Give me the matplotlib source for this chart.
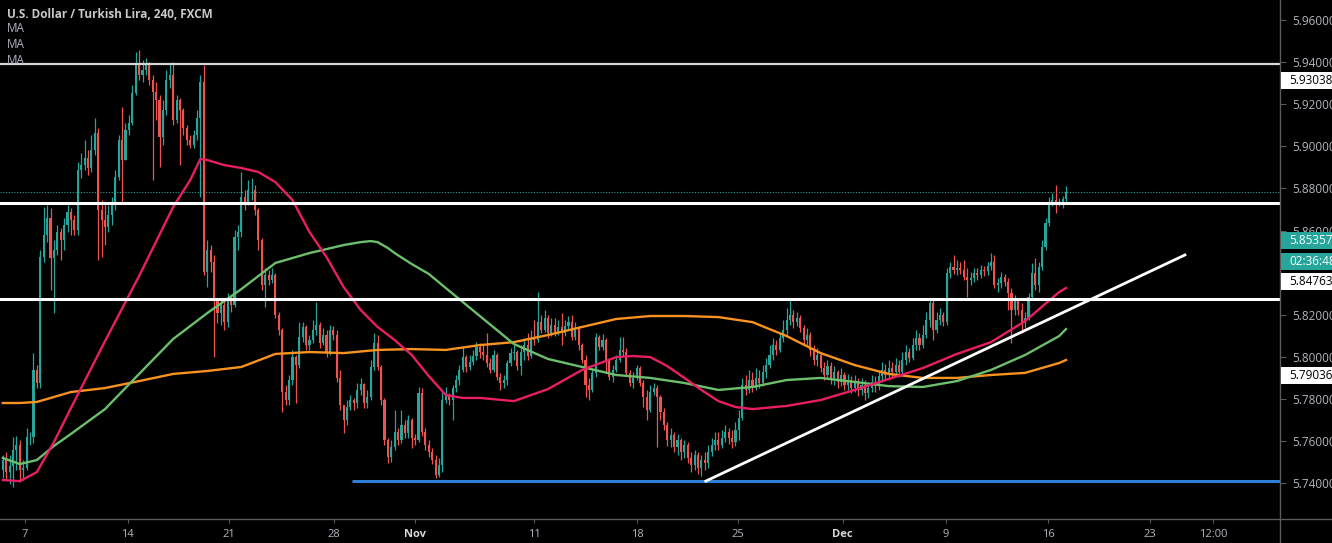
import numpy as np
import matplotlib
matplotlib.use("Agg")
import matplotlib.pyplot as plt
from matplotlib.patches import Rectangle
from matplotlib.lines import Line2D

plt.rcParams['font.family'] = ['Open Sans', 'DejaVu Sans']

# USD/TRY, 4h candles, FXCM (open of each bar = previous close)
first_open = 5.7463
close = [
    5.7510, 5.7453, 5.7481, 5.7558, 5.7581, 5.7463, 5.7472, 5.7619, 5.7619, 5.7938,
    5.7876, 5.8474, 5.8579, 5.8660, 5.8470, 5.8508, 5.8593, 5.8555, 5.8626, 5.8688,
    5.8650, 5.8603, 5.8888, 5.8911, 5.8945, 5.8897, 5.8983, 5.9064, 5.8698, 5.8650,
    5.8617, 5.8674, 5.8721, 5.8854, 5.9030, 5.8935, 5.9078, 5.9111, 5.9253, 5.9396,
    5.9339, 5.9363, 5.9386, 5.9315, 5.9258, 5.9220, 5.9045, 5.9173, 5.9315, 5.9339,
    5.9125, 5.9220, 5.9173, 5.9087, 5.9030, 5.9006, 5.9054, 5.9135, 5.9305, 5.8403,
    5.8508, 5.8450, 5.8270, 5.8208, 5.8246, 5.8165, 5.8270, 5.8246, 5.8569, 5.8593,
    5.8759, 5.8721, 5.8793, 5.8793, 5.8698, 5.8555, 5.8341, 5.8389, 5.8365, 5.8389,
    5.8199, 5.8128, 5.7833, 5.7795, 5.7890, 5.7999, 5.7961, 5.8094, 5.8142, 5.8056,
    5.8080, 5.8128, 5.8151, 5.8066, 5.8104, 5.8023, 5.8128, 5.8104, 5.7900, 5.7771,
    5.7700, 5.7762, 5.7795, 5.7781, 5.7843, 5.7871, 5.7781, 5.7809, 5.7952, 5.8066,
    5.7952, 5.7795, 5.7605, 5.7524, 5.7572, 5.7643, 5.7605, 5.7676, 5.7638, 5.7700,
    5.7614, 5.7605, 5.7828, 5.7643, 5.7581, 5.7548, 5.7510, 5.7439, 5.7486, 5.7795,
    5.7814, 5.7795, 5.7852, 5.7890, 5.7938, 5.7999, 5.7952, 5.7975, 5.8004, 5.8047,
    5.8023, 5.8009, 5.7971, 5.7938, 5.8009, 5.7905, 5.7876, 5.7890, 5.7971, 5.8018,
    5.8023, 5.7956, 5.8023, 5.8056, 5.8004, 5.8090, 5.8080, 5.8165, 5.8128, 5.8184,
    5.8114, 5.8151, 5.8118, 5.8142, 5.8114, 5.8146, 5.8165, 5.8094, 5.8137, 5.8056,
    5.7985, 5.7866, 5.7843, 5.7924, 5.8094, 5.8047, 5.8080, 5.7985, 5.7905, 5.7938,
    5.7985, 5.8033, 5.8023, 5.7924, 5.7876, 5.7900, 5.7947, 5.7876, 5.7809, 5.7748,
    5.7833, 5.7852, 5.7809, 5.7738, 5.7676, 5.7605, 5.7629, 5.7572, 5.7605, 5.7548,
    5.7581, 5.7520, 5.7486, 5.7534, 5.7472, 5.7510, 5.7496, 5.7548, 5.7581, 5.7605,
    5.7581, 5.7614, 5.7643, 5.7614, 5.7595, 5.7653, 5.7710, 5.7866, 5.7843, 5.7890,
    5.7852, 5.7900, 5.7876, 5.7928, 5.7961, 5.8009, 5.8056, 5.8033, 5.8090, 5.8128,
    5.8175, 5.8199, 5.8165, 5.8184, 5.8137, 5.8080, 5.8104, 5.8033, 5.7985, 5.8009,
    5.7947, 5.7914, 5.7956, 5.7900, 5.7928, 5.7880, 5.7914, 5.7866, 5.7890, 5.7852,
    5.7880, 5.7843, 5.7866, 5.7828, 5.7852, 5.7880, 5.7861, 5.7909, 5.7938, 5.7914,
    5.7947, 5.7928, 5.7961, 5.7928, 5.7985, 5.8023, 5.7995, 5.8056, 5.8090, 5.8056,
    5.8104, 5.8175, 5.8256, 5.8128, 5.8175, 5.8199, 5.8165, 5.8399, 5.8427, 5.8413,
    5.8422, 5.8413, 5.8380, 5.8365, 5.8375, 5.8399, 5.8389, 5.8413, 5.8408, 5.8431,
    5.8450, 5.8341, 5.8351, 5.8380, 5.8355, 5.8304, 5.8223, 5.8270, 5.8223, 5.8165,
    5.8184, 5.8284, 5.8399, 5.8341, 5.8427, 5.8522, 5.8636, 5.8731, 5.8745, 5.8726,
    5.8731, 5.8750, 5.8783,
]
high = [
    5.7534, 5.7548, 5.7534, 5.7619, 5.7624, 5.7605, 5.7510, 5.7662, 5.7643, 5.8018,
    5.7961, 5.8508, 5.8712, 5.8721, 5.8707, 5.8555, 5.8626, 5.8612, 5.8659, 5.8721,
    5.8707, 5.8674, 5.8925, 5.8968, 5.9030, 5.8983, 5.9054, 5.9134, 5.9087, 5.8745,
    5.8731, 5.8721, 5.8759, 5.8888, 5.9054, 5.9187, 5.9111, 5.9149, 5.9291, 5.9448,
    5.9458, 5.9410, 5.9420, 5.9400, 5.9339, 5.9305, 5.9244, 5.9220, 5.9363, 5.9396,
    5.9400, 5.9244, 5.9230, 5.9182, 5.9101, 5.9054, 5.9078, 5.9173, 5.9339, 5.9386,
    5.8555, 5.8531, 5.8484, 5.8280, 5.8270, 5.8270, 5.8304, 5.8294, 5.8603, 5.8626,
    5.8878, 5.8793, 5.8840, 5.8850, 5.8816, 5.8707, 5.8565, 5.8422, 5.8413, 5.8422,
    5.8399, 5.8213, 5.8137, 5.7866, 5.7914, 5.8033, 5.8009, 5.8165, 5.8165, 5.8151,
    5.8104, 5.8175, 5.8260, 5.8165, 5.8137, 5.8128, 5.8151, 5.8146, 5.8128, 5.7938,
    5.7771, 5.7795, 5.7819, 5.7805, 5.7876, 5.7900, 5.7876, 5.7843, 5.7985, 5.8114,
    5.8104, 5.7961, 5.7805, 5.7614, 5.7605, 5.7748, 5.7662, 5.7748, 5.7700, 5.7724,
    5.7710, 5.7634, 5.7857, 5.7852, 5.7662, 5.7605, 5.7567, 5.7534, 5.7520, 5.7833,
    5.7857, 5.7828, 5.7866, 5.7914, 5.7961, 5.8047, 5.8009, 5.8009, 5.8033, 5.8070,
    5.8066, 5.8056, 5.8114, 5.7995, 5.8033, 5.8018, 5.7924, 5.7914, 5.7985, 5.8042,
    5.8056, 5.8033, 5.8056, 5.8090, 5.8114, 5.8128, 5.8175, 5.8308, 5.8199, 5.8223,
    5.8199, 5.8184, 5.8184, 5.8175, 5.8208, 5.8175, 5.8194, 5.8199, 5.8165, 5.8146,
    5.8066, 5.8009, 5.7900, 5.7947, 5.8114, 5.8104, 5.8109, 5.8090, 5.7995, 5.7961,
    5.8009, 5.8094, 5.8094, 5.8042, 5.7938, 5.7928, 5.7961, 5.7956, 5.7890, 5.7843,
    5.7866, 5.7876, 5.7866, 5.7819, 5.7757, 5.7690, 5.7662, 5.7643, 5.7634, 5.7614,
    5.7605, 5.7595, 5.7548, 5.7558, 5.7548, 5.7534, 5.7548, 5.7581, 5.7614, 5.7643,
    5.7643, 5.7653, 5.7676, 5.7662, 5.7653, 5.7690, 5.7748, 5.7900, 5.7914, 5.7938,
    5.7928, 5.7947, 5.7938, 5.7961, 5.7995, 5.8056, 5.8090, 5.8080, 5.8118, 5.8175,
    5.8232, 5.8270, 5.8223, 5.8213, 5.8199, 5.8151, 5.8137, 5.8118, 5.8056, 5.8042,
    5.8023, 5.7975, 5.7985, 5.7975, 5.7956, 5.7938, 5.7947, 5.7928, 5.7919, 5.7909,
    5.7914, 5.7900, 5.7900, 5.7890, 5.7880, 5.7914, 5.7909, 5.7938, 5.7975, 5.7966,
    5.7985, 5.7975, 5.7995, 5.7985, 5.8023, 5.8056, 5.8042, 5.8090, 5.8128, 5.8114,
    5.8151, 5.8213, 5.8280, 5.8270, 5.8213, 5.8232, 5.8213, 5.8422, 5.8450, 5.8484,
    5.8460, 5.8450, 5.8460, 5.8422, 5.8403, 5.8422, 5.8422, 5.8436, 5.8431, 5.8450,
    5.8494, 5.8484, 5.8375, 5.8403, 5.8394, 5.8375, 5.8327, 5.8294, 5.8280, 5.8256,
    5.8213, 5.8304, 5.8446, 5.8470, 5.8450, 5.8555, 5.8660, 5.8759, 5.8779, 5.8816,
    5.8755, 5.8764, 5.8811,
]
low = [
    5.7425, 5.7415, 5.7396, 5.7382, 5.7463, 5.7406, 5.7415, 5.7463, 5.7581, 5.7591,
    5.7852, 5.7852, 5.8450, 5.8545, 5.8318, 5.8208, 5.8484, 5.8460, 5.8508, 5.8593,
    5.8579, 5.8579, 5.8579, 5.8850, 5.8888, 5.8864, 5.8878, 5.8959, 5.8460, 5.8474,
    5.8531, 5.8593, 5.8626, 5.8698, 5.8840, 5.8731, 5.8935, 5.9054, 5.9101, 5.9244,
    5.9315, 5.9305, 5.9339, 5.9291, 5.8840, 5.9125, 5.8902, 5.9006, 5.9149, 5.9277,
    5.9101, 5.9111, 5.8911, 5.9054, 5.9006, 5.8992, 5.8992, 5.9030, 5.8759, 5.8389,
    5.8332, 5.8403, 5.7999, 5.8161, 5.8151, 5.8128, 5.8142, 5.8212, 5.8237, 5.8508,
    5.8569, 5.8698, 5.8721, 5.8745, 5.8674, 5.8508, 5.8318, 5.8237, 5.8341, 5.8351,
    5.8184, 5.8104, 5.7738, 5.7771, 5.7771, 5.7866, 5.7781, 5.7947, 5.8070, 5.8033,
    5.8033, 5.8066, 5.8104, 5.8042, 5.8056, 5.7999, 5.8009, 5.8080, 5.7880, 5.7748,
    5.7638, 5.7676, 5.7748, 5.7748, 5.7757, 5.7819, 5.7757, 5.7757, 5.7795, 5.7938,
    5.7938, 5.7771, 5.7581, 5.7496, 5.7500, 5.7558, 5.7581, 5.7591, 5.7614, 5.7614,
    5.7567, 5.7581, 5.7595, 5.7624, 5.7558, 5.7524, 5.7491, 5.7425, 5.7429, 5.7453,
    5.7781, 5.7771, 5.7700, 5.7833, 5.7866, 5.7928, 5.7928, 5.7938, 5.7961, 5.7985,
    5.7995, 5.7985, 5.7952, 5.7924, 5.7928, 5.7890, 5.7843, 5.7852, 5.7866, 5.7956,
    5.7985, 5.7938, 5.7914, 5.7985, 5.7985, 5.7995, 5.8056, 5.8070, 5.8114, 5.8118,
    5.8090, 5.8099, 5.8099, 5.8104, 5.8056, 5.8099, 5.8128, 5.8080, 5.8080, 5.8033,
    5.7971, 5.7809, 5.7795, 5.7833, 5.7905, 5.8033, 5.8033, 5.7924, 5.7890, 5.7880,
    5.7928, 5.7975, 5.8004, 5.7909, 5.7861, 5.7852, 5.7890, 5.7861, 5.7762, 5.7700,
    5.7738, 5.7819, 5.7572, 5.7700, 5.7653, 5.7576, 5.7572, 5.7548, 5.7534, 5.7510,
    5.7520, 5.7496, 5.7453, 5.7463, 5.7443, 5.7434, 5.7463, 5.7472, 5.7529, 5.7558,
    5.7558, 5.7567, 5.7595, 5.7586, 5.7567, 5.7576, 5.7605, 5.7700, 5.7819, 5.7828,
    5.7833, 5.7843, 5.7852, 5.7861, 5.7900, 5.7947, 5.7985, 5.8009, 5.8023, 5.8070,
    5.8104, 5.8151, 5.8137, 5.8146, 5.8118, 5.8056, 5.8056, 5.8004, 5.7961, 5.7956,
    5.7928, 5.7890, 5.7900, 5.7871, 5.7866, 5.7852, 5.7861, 5.7843, 5.7843, 5.7828,
    5.7833, 5.7814, 5.7819, 5.7795, 5.7805, 5.7833, 5.7833, 5.7843, 5.7880, 5.7890,
    5.7890, 5.7900, 5.7909, 5.7905, 5.7914, 5.7961, 5.7975, 5.7985, 5.8033, 5.8033,
    5.8042, 5.8090, 5.8142, 5.8080, 5.8114, 5.8151, 5.8146, 5.8151, 5.8375, 5.8394,
    5.8389, 5.8394, 5.8365, 5.8284, 5.8341, 5.8355, 5.8365, 5.8375, 5.8384, 5.8389,
    5.8413, 5.8327, 5.8308, 5.8327, 5.8336, 5.8223, 5.8066, 5.8199, 5.8199, 5.8114,
    5.8137, 5.8175, 5.8270, 5.8318, 5.8308, 5.8413, 5.8508, 5.8621, 5.8716, 5.8684,
    5.8717, 5.8707, 5.8735,
]

# moving averages at selected bars
fast_bars = [0, 5, 10, 15, 20, 30, 40, 50, 55, 58, 60, 65, 70, 75, 80, 85, 90, 95, 100,
             105, 110, 115, 120, 125, 130, 135, 140, 150, 160, 170, 180, 185, 190, 195,
             200, 205, 210, 215, 220, 230, 240, 250, 260, 270, 280, 290, 300, 310, 312]
ma_fast = [5.7415, 5.7410, 5.7453, 5.7595, 5.7757, 5.8075, 5.8384, 5.8712, 5.8840, 5.8940,
           5.8935, 5.8911, 5.8897, 5.8878, 5.8830, 5.8745, 5.8593, 5.8474, 5.8332, 5.8223,
           5.8142, 5.8080, 5.8009, 5.7909, 5.7819, 5.7805, 5.7805, 5.7790, 5.7847, 5.7938,
           5.7999, 5.8004, 5.7999, 5.7956, 5.7900, 5.7843, 5.7790, 5.7762, 5.7752, 5.7767,
           5.7795, 5.7843, 5.7895, 5.7947, 5.8014, 5.8070, 5.8170, 5.8308, 5.8327]
mid_bars = [0, 5, 10, 15, 20, 30, 40, 50, 60, 70, 80, 90, 100, 105, 108, 110, 113, 115,
            120, 125, 130, 140, 150, 160, 170, 180, 190, 200, 210, 220, 230, 240, 250,
            260, 270, 280, 290, 300, 310, 312]
ma_mid = [5.7520, 5.7491, 5.7510, 5.7577, 5.7634, 5.7752, 5.7919, 5.8085, 5.8208, 5.8322,
          5.8446, 5.8493, 5.8531, 5.8545, 5.8550, 5.8545, 5.8517, 5.8493, 5.8441, 5.8394,
          5.8327, 5.8194, 5.8061, 5.7990, 5.7952, 5.7914, 5.7900, 5.7876, 5.7843, 5.7857,
          5.7890, 5.7900, 5.7881, 5.7861, 5.7857, 5.7885, 5.7938, 5.8009, 5.8099, 5.8132]
slow_bars = [0, 5, 10, 20, 30, 40, 50, 60, 70, 80, 90, 100, 110, 120, 130, 140, 150, 160,
             170, 180, 190, 200, 210, 220, 230, 240, 250, 260, 270, 280, 290, 300, 310, 312]
ma_slow = [5.7781, 5.7781, 5.7786, 5.7833, 5.7852, 5.7885, 5.7919, 5.7933, 5.7952, 5.8014,
           5.8023, 5.8018, 5.8033, 5.8037, 5.8033, 5.8056, 5.8070, 5.8104, 5.8142, 5.8180,
           5.8194, 5.8194, 5.8189, 5.8165, 5.8099, 5.8018, 5.7961, 5.7919, 5.7900, 5.7900,
           5.7914, 5.7924, 5.7971, 5.7985]

# drawings
levels = [5.9391, 5.8731, 5.8275]
support = 5.7410
support_from = 102.5
trend_bars = [206.3, 346.9]
trend_prices = [5.7410, 5.8484]

price_ticks = [5.74, 5.76, 5.78, 5.80, 5.82, 5.84, 5.86, 5.88, 5.90, 5.92, 5.94, 5.96]
hidden_ticks = [5.84]  # sits under the label boxes
date_labels = ['7', '14', '21', '28', 'Nov', '11', '18', '25', 'Dec', '9', '16', '23', '12:00']
date_pos = [6.5, 36.7, 66.4, 97.2, 121.0, 155.9, 186.1, 215.7, 246.5, 276.8, 306.7, 336.6, 355.1]

UP = '#26a69a'
DOWN = '#ef5350'
TXT = '#b2b5be'
AXC = '#5a5a5a'

close = np.array(close)
high = np.array(high)
low = np.array(low)
opens = np.concatenate([[first_open], close[:-1]])
high = np.maximum(high, np.maximum(opens, close))
low = np.minimum(low, np.minimum(opens, close))
x = np.arange(len(close))
cols = np.where(close >= opens, UP, DOWN)

W, H = 1332, 543
fig = plt.figure(figsize=(W / 100, H / 100), dpi=100, facecolor='black')
ax = fig.add_axes([0, 24 / H, 1280 / W, 519 / H])
ax.set_facecolor('black')

ax.vlines(x, low, high, colors=cols, linewidth=0.9, zorder=2)
body = np.maximum(np.abs(close - opens), 0.00018)
ax.bar(x, body, bottom=np.minimum(opens, close), width=0.62, color=cols,
       linewidth=0, zorder=3)

ax.plot(slow_bars, ma_slow, color='#f7931e', lw=1.7, zorder=4, solid_joinstyle='round')
ax.plot(mid_bars, ma_mid, color='#6cbf6c', lw=1.7, zorder=4, solid_joinstyle='round')
ax.plot(fast_bars, ma_fast, color='#e91e63', lw=1.7, zorder=4, solid_joinstyle='round')

ax.axhline(close[-1], color=UP, lw=0.8, ls=(0, (1, 1.5)), zorder=1)
ax.axhline(levels[0], color='#d6d6d6', lw=1.6, zorder=5)
for lv in levels[1:]:
    ax.axhline(lv, color='white', lw=2.2, zorder=5)
ax.hlines(support, support_from, 400, color='#2f7ed8', lw=2.2, zorder=5)
ax.plot(trend_bars, trend_prices, color='white', lw=2.0, zorder=5)

ax.set_xlim(-0.82, 374.8)
ax.set_ylim(5.7230, 5.9695)
for s in ax.spines.values():
    s.set_visible(False)

ax.yaxis.tick_right()
ax.set_yticks(price_ticks)
ax.set_yticklabels(['' if round(p, 2) in hidden_ticks else '{:.5f}'.format(p)
                    for p in price_ticks])
ax.tick_params(axis='y', colors=AXC, labelcolor=TXT, length=4, width=0.8,
               pad=5, labelsize=8.5)
ax.set_xticks(date_pos)
ax.set_xticklabels(date_labels)
ax.tick_params(axis='x', colors=AXC, labelcolor=TXT, length=3, width=0.8,
               pad=4, labelsize=8)
for t in ax.get_xticklabels():
    if t.get_text() in ('Nov', 'Dec'):
        t.set_fontweight('bold')
        t.set_color('#d8d8d8')

fig.add_artist(Line2D([0, 1], [24 / H, 24 / H], color=AXC, lw=1,
                      transform=fig.transFigure))
fig.add_artist(Line2D([1280 / W, 1280 / W], [0, 1], color=AXC, lw=1,
                      transform=fig.transFigure))

# price labels on the right scale
boxes = [('5.93038', 80.5, 'white', 'black'),
         ('5.85357', 240.5, UP, 'white'),
         ('02:36:48', 261.5, UP, 'white'),
         ('5.84763', 281.5, 'white', 'black'),
         ('5.79036', 375.5, 'white', 'black')]
for txt, yc, fc, tc in boxes:
    fig.add_artist(Rectangle((1281 / W, 1 - (yc + 8.5) / H), 51 / W, 17 / H,
                             transform=fig.transFigure, fc=fc, ec='none', zorder=10))
    fig.text(1289 / W, 1 - yc / H, txt, color=tc, fontsize=8.5, va='center',
             ha='left', zorder=11)

fig.text(7 / W, 1 - 14 / H, 'U.S. Dollar / Turkish Lira, 240, FXCM', color='#c8c8c8',
         fontsize=8.5, fontweight='bold', va='center', ha='left')
for yy in (29, 45, 61):
    fig.text(7 / W, 1 - yy / H, 'MA', color=TXT, fontsize=8.5, va='center', ha='left')

fig.savefig('out.png', dpi=100, facecolor='black')
